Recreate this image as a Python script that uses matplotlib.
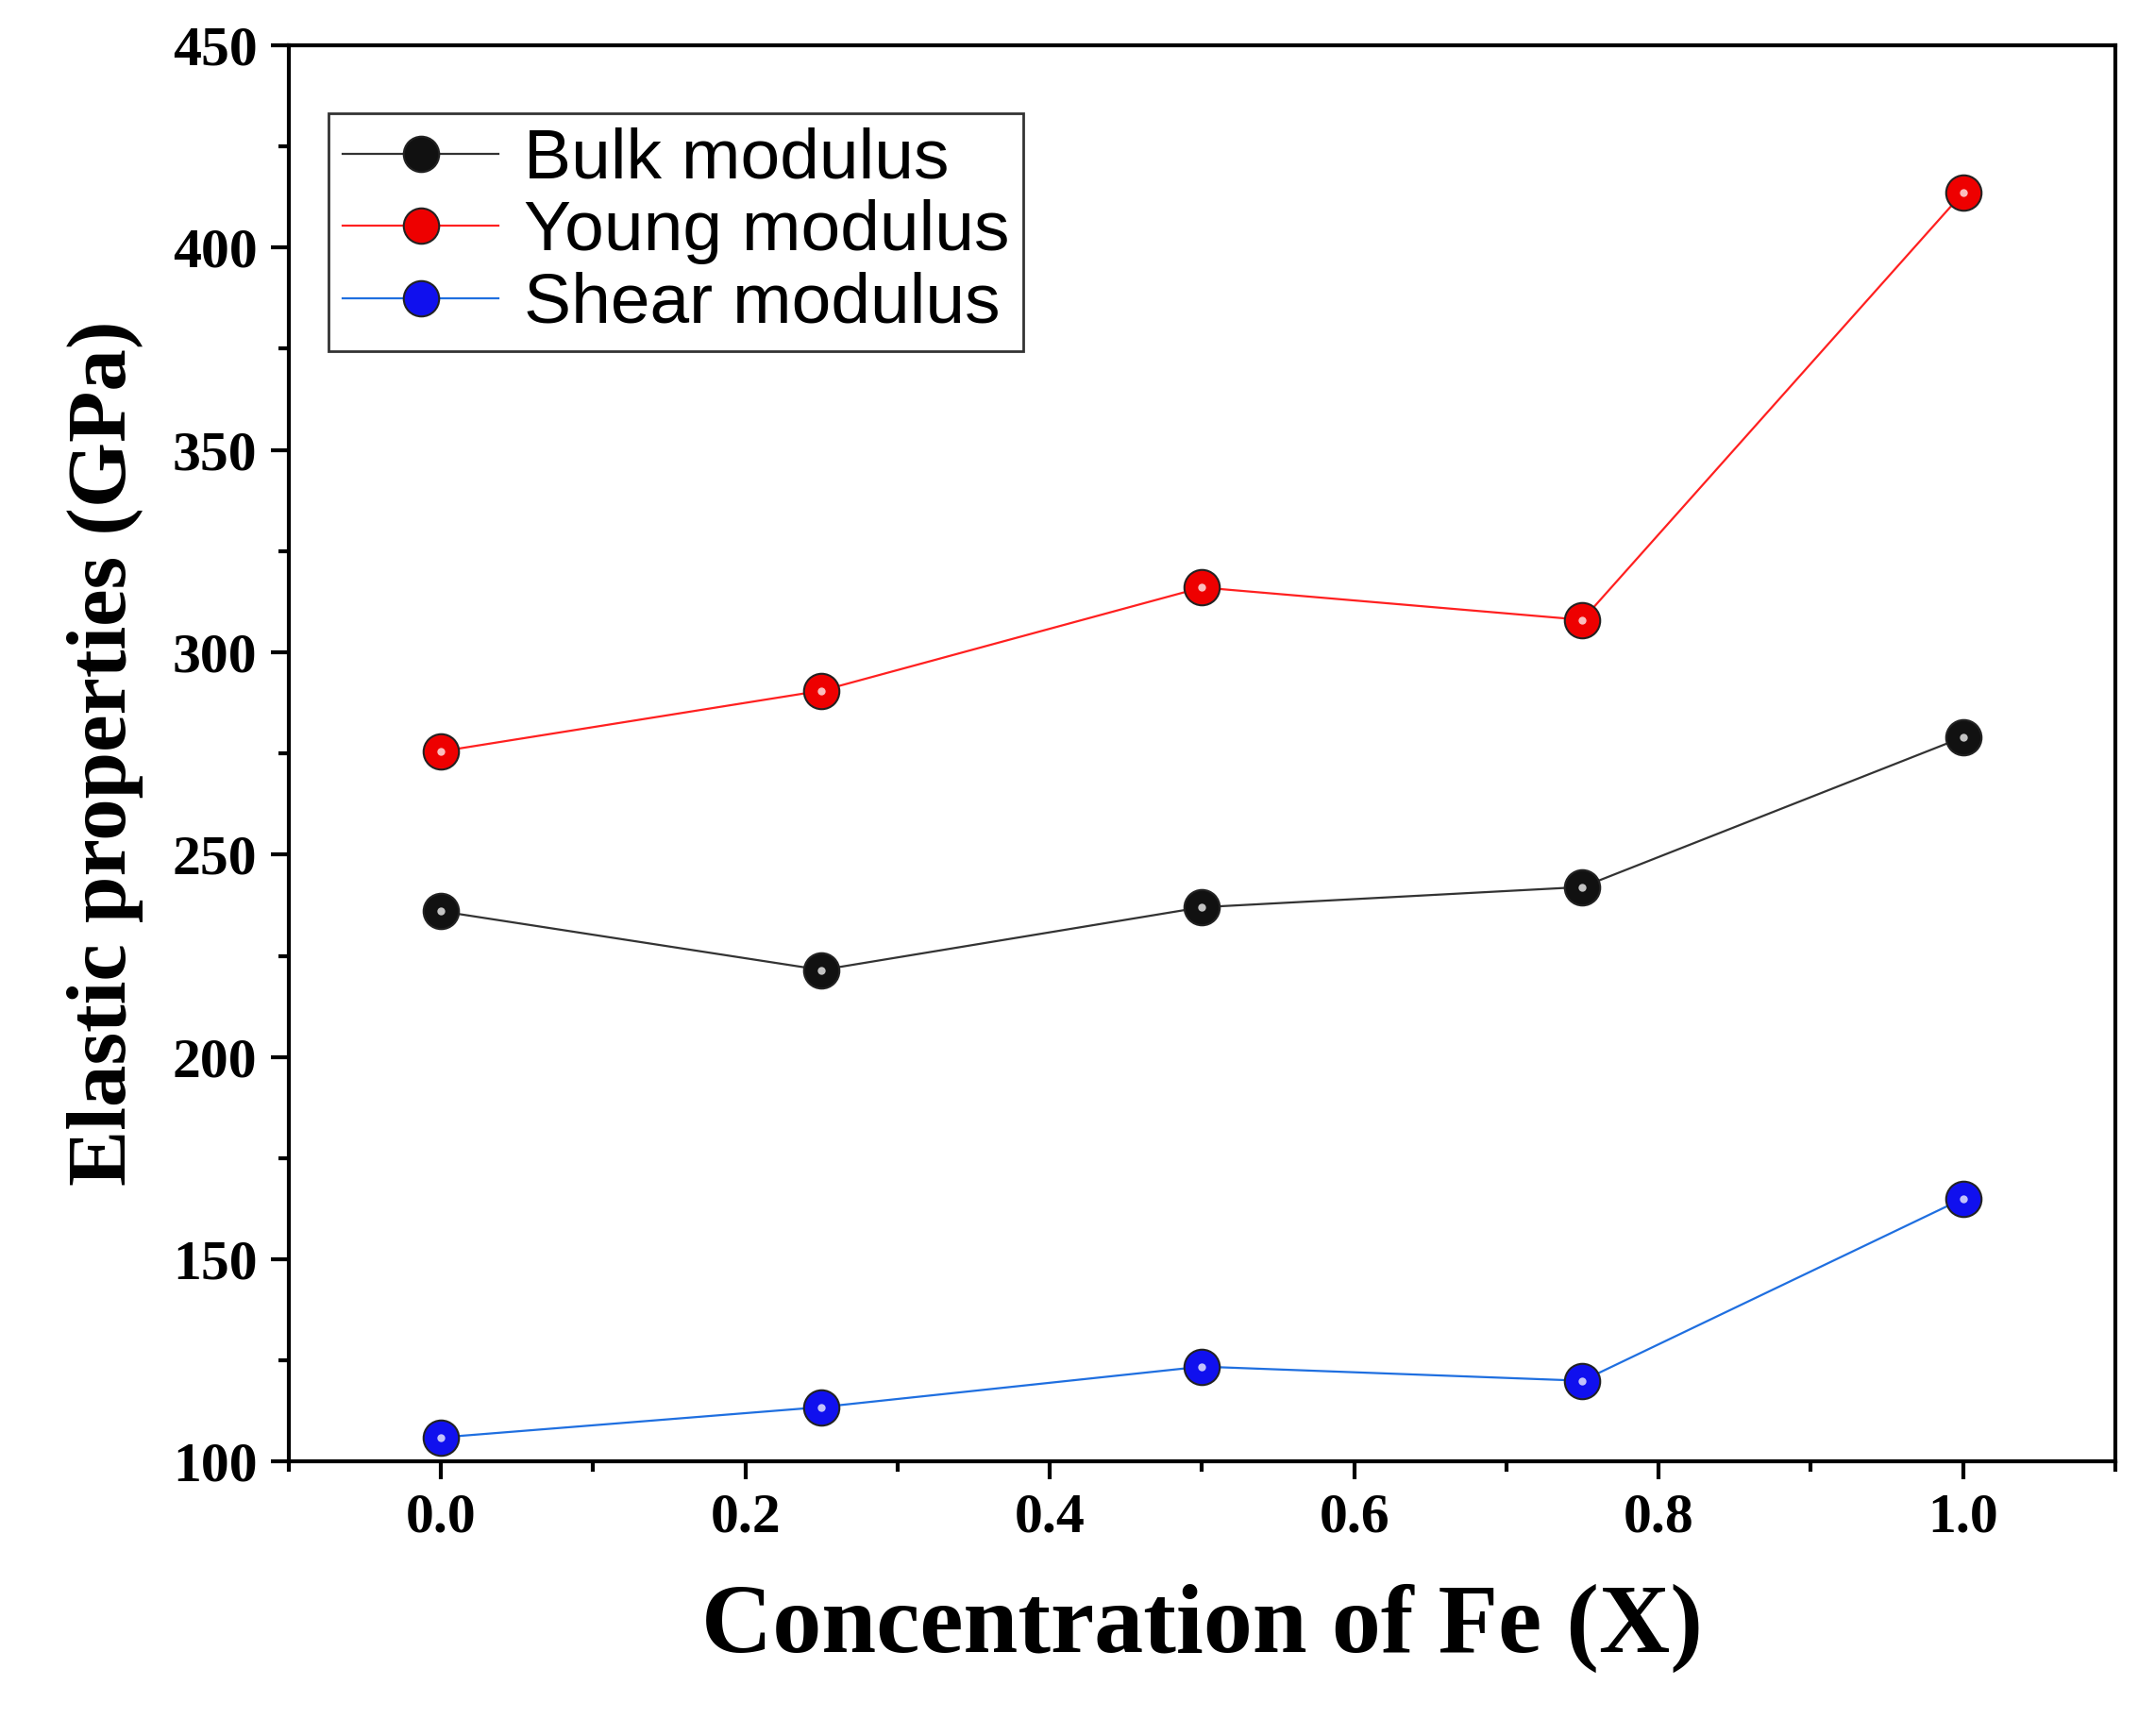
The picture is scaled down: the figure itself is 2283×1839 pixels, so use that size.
import matplotlib
matplotlib.use("Agg")
import matplotlib.pyplot as plt
from matplotlib.ticker import MultipleLocator

x = [0.0, 0.25, 0.5, 0.75, 1.0]
bulk = [236, 221.5, 237, 242, 279]
young = [275.5, 290.5, 316, 308, 413.5]
shear = [106, 113.5, 123.5, 120, 165]
names = ["Bulk modulus", "Young modulus", "Shear modulus"]
lcolors = ["#333333", "#ff2020", "#1f6fe0"]
mcolors = ["#111111", "#ee0000", "#1010ee"]

fig = plt.figure(figsize=(22.83, 18.39), dpi=100)
ax = fig.add_axes([0.134, 0.158, 0.8475, 0.816])
for ys, n, lc, mc in zip([bulk, young, shear], names, lcolors, mcolors):
    ax.plot(x, ys, '-', color=lc, lw=1.6, marker='o', ms=27, mfc=mc, mec='#222222', mew=1.5, label=n, zorder=3)
    ax.plot(x, ys, 'o', ls='none', ms=6, mfc='white', mec='none', alpha=0.75, zorder=4)

ax.set_xlim(-0.1, 1.1)
ax.set_ylim(100, 450)
ax.xaxis.set_major_locator(MultipleLocator(0.2))
ax.xaxis.set_minor_locator(MultipleLocator(0.1))
ax.yaxis.set_major_locator(MultipleLocator(50))
ax.yaxis.set_minor_locator(MultipleLocator(25))
ax.xaxis.set_major_formatter(matplotlib.ticker.FormatStrFormatter("%.1f"))
ax.tick_params(which='major', direction='out', length=14, width=3, pad=10)
ax.tick_params(which='minor', direction='out', length=8, width=3)
for s in ax.spines.values():
    s.set_linewidth(3)
for lab in ax.get_xticklabels() + ax.get_yticklabels():
    lab.set_fontfamily("Liberation Serif")
    lab.set_fontweight("bold")
    lab.set_fontsize(43)
ax.set_xlabel("Concentration of Fe (X)", fontfamily="Liberation Serif", fontweight="bold", fontsize=75, labelpad=30)
ax.set_ylabel("Elastic properties (GPa)", fontfamily="Liberation Serif", fontweight="bold", fontsize=64, labelpad=22)

h, l = ax.get_legend_handles_labels()
leg = ax.legend(h, l, loc='upper left', bbox_to_anchor=(0.022, 0.952), prop={"family": "Liberation Sans", "size": 54},
                frameon=True, fancybox=False, edgecolor='black', handlelength=2.2, handletextpad=0.35,
                borderpad=0.2, labelspacing=0.1, borderaxespad=0)
leg.get_frame().set_linewidth(2)
fig.savefig("out.png", dpi=100)
